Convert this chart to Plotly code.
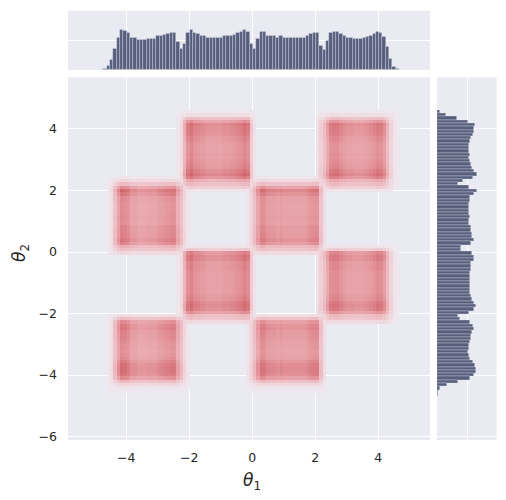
import numpy as np
import plotly.graph_objects as go

# marginal histogram of theta_1 (bar heights, gridline = 1)
hx_start, hx_width = -4.73, 0.1055
hx_px = [207, 198, 180, 145, 112, 90, 93, 99, 112, 112,
         118, 118, 118, 115, 115, 115, 108, 106, 103, 100,
         97, 97, 124, 147, 132, 97, 88, 99, 102, 106,
         108, 112, 112, 112, 112, 112, 108, 108, 106, 104,
         99, 96, 88, 96, 132, 145, 115, 94, 96, 106,
         108, 108, 112, 108, 112, 112, 112, 112, 112, 112,
         112, 108, 101, 99, 99, 136, 148, 121, 97, 94,
         94, 102, 108, 112, 112, 115, 115, 115, 112, 110,
         106, 101, 94, 97, 110, 140, 175, 199, 207]
hx = [(210 - v) / 90 for v in hx_px]

# marginal histogram of theta_2, from top (4.615) downwards
hy_top, hy_width = 4.615, 0.107
hy_px = [44, 62, 95, 128, 150, 146, 146, 143, 138, 136,
         131, 131, 131, 134, 131, 136, 138, 140, 148, 155,
         143, 113, 98, 131, 155, 146, 134, 134, 131, 131,
         131, 131, 134, 131, 131, 138, 138, 140, 140, 146,
         138, 107, 107, 140, 148, 146, 138, 138, 138, 134,
         134, 134, 134, 134, 134, 134, 138, 140, 148, 152,
         148, 131, 98, 104, 134, 143, 146, 140, 138, 138,
         134, 131, 131, 128, 131, 134, 143, 150, 152, 152,
         148, 134, 98, 65, 44, 40, 38]
hy = [(v - 36) / 91 for v in hy_px]

# checkerboard cells (x0, x1, y0, y1)
sq_x0 = [-2.15, 2.25, -4.4, 0.05, -2.15, 2.25, -4.4, 0.05]
sq_x1 = [-0.1, 4.4, -2.25, 2.15, -0.1, 4.4, -2.25, 2.15]
sq_y0 = [2.2, 2.2, 0.1, 0.1, -2.15, -2.15, -4.4, -4.4]
sq_y1 = [4.4, 4.4, 2.2, 2.2, 0.0, 0.0, -2.2, -2.2]

xc = np.array([hx_start + (i + 0.5) * hx_width for i in range(len(hx))])
yc = np.array([hy_top - (i + 0.5) * hy_width for i in range(len(hy))])

# density grid on the histogram bins
X, Y = np.meshgrid(xc, yc)
mask = np.zeros_like(X)
for x0, x1, y0, y1 in zip(sq_x0, sq_x1, sq_y0, sq_y1):
    dx = np.maximum(np.maximum(x0 - X, X - x1), 0)
    dy = np.maximum(np.maximum(y0 - Y, Y - y1), 0)
    d = np.hypot(dx, dy)
    mask = np.maximum(mask, np.clip(1 - d / 0.26, 0, 1) ** 1.8)
z = mask * np.outer(hy, hx)
z = np.where(mask > 0.03, z, np.nan)

red_scale = [[0.0, "rgb(238,232,238)"], [0.2, "rgb(240,214,220)"],
             [0.45, "rgb(236,184,190)"], [0.62, "rgb(229,156,162)"],
             [0.8, "rgb(216,118,125)"], [1.0, "rgb(196,78,82)"]]

# page body has an 8px margin, so the figure sits 8px in and down
W, H, OFF = 498, 492, 8


def px_x(p):
    return (p - OFF) / W


def px_y(p):
    return 1 - (p - OFF) / H


fig = go.Figure()
fig.add_trace(go.Heatmap(x=xc, y=yc[::-1], z=z[::-1], zmin=0, zmax=2.0,
                         colorscale=red_scale, showscale=False, hoverinfo="skip",
                         xaxis="x", yaxis="y"))
bar_col = "#575f7d"
fig.add_trace(go.Bar(x=xc, y=hx, width=hx_width, marker_color=bar_col,
                     marker_line=dict(color="rgba(234,234,242,0.55)", width=0.6),
                     xaxis="x2", yaxis="y2"))
fig.add_trace(go.Bar(y=yc, x=hy, width=hy_width, orientation="h", marker_color=bar_col,
                     marker_line=dict(color="rgba(234,234,242,0.55)", width=0.6),
                     xaxis="x3", yaxis="y3"))

tick_font = dict(family="DejaVu Sans", size=12.5, color="#262626")
grid = dict(gridcolor="white", gridwidth=1, zeroline=False, showline=False,
            automargin=False)
xr, yr = [-5.85, 5.64], [-6.11, 5.68]
xdom = [px_x(68), px_x(430)]
ydom = [px_y(440), px_y(77.3)]

fig.update_layout(
    width=W, height=H, margin=dict(l=0, r=0, t=0, b=0, autoexpand=False),
    paper_bgcolor="white", plot_bgcolor="#EAEAF2", showlegend=False, bargap=0,
    xaxis=dict(domain=xdom, range=xr, tickvals=[-4, -2, 0, 2, 4],
               ticktext=["−4", "−2", "0", "2", "4"], tickfont=tick_font,
               ticklabelstandoff=8, **grid),
    yaxis=dict(domain=ydom, range=yr, tickvals=[-6, -4, -2, 0, 2, 4],
               ticktext=["−6", "−4", "−2", "0", "2", "4"], tickfont=tick_font,
               ticklabelstandoff=10, **grid),
    xaxis2=dict(domain=xdom, range=xr, tickvals=[-4, -2, 0, 2, 4],
                showticklabels=False, anchor="y2", **grid),
    yaxis2=dict(domain=[px_y(70), px_y(10.7)], range=[0, 1.977],
                tickvals=[1], showticklabels=False, anchor="x2", **grid),
    xaxis3=dict(domain=[px_x(437), px_x(496.7)], range=[0, 1.97],
                tickvals=[1], showticklabels=False, anchor="y3", **grid),
    yaxis3=dict(domain=ydom, range=yr, tickvals=[-6, -4, -2, 0, 2, 4],
                showticklabels=False, anchor="x3", **grid),
    annotations=[
        dict(text="<i>θ</i><sub>1</sub>", x=px_x(252.3), y=px_y(481),
             xref="paper", yref="paper", showarrow=False,
             xanchor="center", yanchor="middle",
             font=dict(family="DejaVu Sans", size=17, color="#262626")),
        dict(text="<i>θ</i><sub>2</sub>", x=px_x(20), y=px_y(253),
             xref="paper", yref="paper", showarrow=False, textangle=-90,
             xanchor="center", yanchor="middle",
             font=dict(family="DejaVu Sans", size=17, color="#262626")),
    ],
)

fig.write_html("out.html")
